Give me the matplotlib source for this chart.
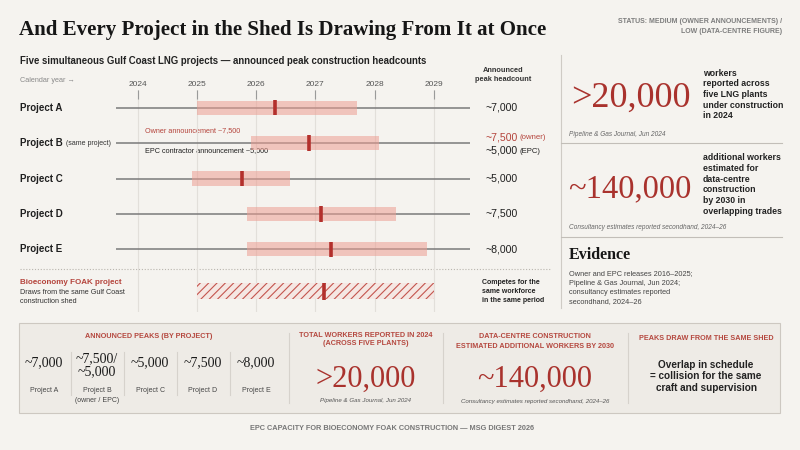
import matplotlib
matplotlib.use("Agg")
import matplotlib.pyplot as plt
from matplotlib.transforms import blended_transform_factory
from matplotlib.patches import Rectangle
from matplotlib.lines import Line2D

# ---------------- data ----------------
projects = ["Project A", "Project B", "Project C", "Project D", "Project E"]
bar_start = [2025.00, 2025.91, 2024.92, 2025.85, 2025.85]
bar_end = [2027.70, 2028.08, 2026.57, 2028.36, 2028.89]
peak_year = [2026.32, 2026.90, 2025.76, 2027.10, 2027.27]
headcount_labels = ["~7,000", "~7,500", "~5,000", "~7,500", "~8,000"]
b_owner_label = "~7,500"
b_epc_label = "~5,000"
foak_start, foak_end, foak_peak = 2025.01, 2029.00, 2027.15
years = [2024, 2025, 2026, 2027, 2028, 2029]
timeline_span = (2023.63, 2029.61)

peak_values = ["~7,000", "~7,500/\n~5,000", "~5,000", "~7,500", "~8,000"]
peak_names = ["Project A", "Project B\n(owner / EPC)", "Project C", "Project D", "Project E"]
lng_workers_2024 = ">20,000"
datacentre_workers_2030 = "~140,000"

# ---------------- style ----------------
BG = "#f5f3ef"
RED = "#a9322d"
RED_L = "#b5483f"
DARK = "#1f1f1f"
SANS = ["Liberation Sans", "DejaVu Sans"]
SERIF = ["Liberation Serif", "DejaVu Serif"]

fig = plt.figure(figsize=(8, 4.5), dpi=100, facecolor=BG)
ov = fig.add_axes([0, 0, 1, 1])
ov.set_xlim(0, 800)
ov.set_ylim(450, 0)
ov.axis("off")
ov.set_zorder(0)


def T(x, y, s, size=6, color=DARK, family=SANS, weight="normal", ha="left",
      va="center", style="normal", **kw):
    return ov.text(x, y, s, fontsize=size, color=color, family=family,
                   weight=weight, ha=ha, va=va, style=style, **kw)


# ---------------- timeline axes ----------------
X0, PPY = 137.7, 59.2      # pixel of 2024, pixels per year
R0, PPR = 107.7, 35.4      # pixel of first row, pixels per row
L, R, TOP, BOT = 110, 475, 90, 312
ax = fig.add_axes([L / 800, (450 - BOT) / 450, (R - L) / 800, (BOT - TOP) / 450])
ax.set_zorder(1)
ax.patch.set_alpha(0)
ax.set_xlim(2024 + (L - X0) / PPY, 2024 + (R - X0) / PPY)
ax.set_ylim((BOT - R0) / PPR, (TOP - R0) / PPR)
for s in ax.spines.values():
    s.set_visible(False)
ax.set_yticks([])
ax.xaxis.tick_top()
ax.set_xticks(years)
ax.set_xticklabels([str(y) for y in years])
ax.tick_params(axis="x", direction="in", length=6.5, width=0.8, color="#9a9a9a",
               pad=1.6, labelsize=6, labelcolor="#555555")
for lab in ax.get_xticklabels():
    lab.set_family(SANS)
ax.grid(axis="x", color="#e2dfda", lw=0.8, zorder=0)
ax.set_axisbelow(True)

rows = list(range(len(projects)))
foak_row = 5.19
bar_h = 0.40

ax.hlines(rows, timeline_span[0], timeline_span[1], color="#7a7a7a", lw=1.1, zorder=2)
ax.barh(rows, [e - s for s, e in zip(bar_start, bar_end)], left=bar_start,
        height=bar_h, color="#ec9e92", alpha=0.55, lw=0, zorder=3)
ax.vlines(peak_year, [r - 0.22 for r in rows], [r + 0.22 for r in rows],
          color="#b3302c", lw=2.6, zorder=4)

plt.rcParams["hatch.linewidth"] = 0.8
ax.barh([foak_row], [foak_end - foak_start], left=[foak_start], height=0.45,
        facecolor="#f5e7e3", edgecolor="#c4554e", hatch="////", lw=0, zorder=3)
ax.vlines([foak_peak], [foak_row - 0.25], [foak_row + 0.25], color="#b3302c",
          lw=2.6, zorder=4)

# labels attached to rows
tr = blended_transform_factory(ov.transData, ax.transData)
for r, name in zip(rows, projects):
    t = ax.text(20, r, name, transform=tr, fontsize=7, weight="bold",
                family=SANS, color=DARK, va="center")
    if r == 1:
        ax.annotate("(same project)", xy=(1, 0.5), xycoords=t, xytext=(2.5, 0),
                    textcoords="offset points", va="center", fontsize=5,
                    family=SANS, color="#333333")
for r, lab in zip(rows, headcount_labels):
    if r == 1:
        t1 = ax.text(485, r - 0.17, b_owner_label, transform=tr, fontsize=7.6,
                     family=SANS, color="#b5443c", va="center")
        ax.annotate("(owner)", xy=(1, 0.45), xycoords=t1, xytext=(1.5, 0),
                    textcoords="offset points", va="center", fontsize=5.6,
                    family=SANS, color="#b5443c")
        t2 = ax.text(485, r + 0.21, b_epc_label, transform=tr, fontsize=7.6,
                     family=SANS, color=DARK, va="center")
        ax.annotate("(EPC)", xy=(1, 0.45), xycoords=t2, xytext=(1.5, 0),
                    textcoords="offset points", va="center", fontsize=5.6,
                    family=SANS, color=DARK)
    else:
        ax.text(485, r, lab, transform=tr, fontsize=7.6, family=SANS,
                color=DARK, va="center")

# ---------------- header ----------------
T(19, 35, "And Every Project in the Shed Is Drawing From It at Once", size=15.1,
  family=SERIF, weight="bold", va="baseline", color="#161616")
T(20, 61.5, "Five simultaneous Gulf Coast LNG projects \u2014 announced peak construction headcounts",
  size=6.9, weight="bold", color="#222222")
T(20, 81, "Calendar year \u2192", size=5.2, color="#8a8a8a")
T(503, 75, "Announced\npeak headcount", size=5.3, weight="bold", ha="center",
  color="#333333", linespacing=1.3)
T(782, 26.5, "STATUS: MEDIUM (OWNER ANNOUNCEMENTS) /\nLOW (DATA-CENTRE FIGURE)",
  size=5.0, weight="bold", ha="right", color="#7d7d7d", linespacing=1.45)

# B annotations
T(145, 131, "Owner announcement ~7,500", size=5.2, color="#b5443c")
T(145, 151, "EPC contractor announcement ~5,000", size=5.2, color=DARK)

# divider
ov.add_line(Line2D([20, 550], [269.3, 269.3], color="#b9b5ae", lw=0.8,
                   linestyle=(0, (1, 1.6))))
T(20, 282, "Bioeconomy FOAK project", size=5.8, color="#b5443c", weight="bold")
T(20, 297.3, "Draws from the same Gulf Coast\nconstruction shed", size=5.2,
  color="#333333", linespacing=1.4)
T(481.7, 291.7, "Competes for the\nsame workforce\nin the same period", size=5.0,
  color="#222222", linespacing=1.35, weight="bold")

# ---------------- right panel ----------------
ov.add_line(Line2D([560.7, 560.7], [55, 308], color="#cfcbc5", lw=0.8))
ov.add_line(Line2D([560.7, 782], [143.3, 143.3], color="#c2beb8", lw=0.8))
ov.add_line(Line2D([560.7, 782], [237.3, 237.3], color="#c2beb8", lw=0.8))

T(571, 107, lng_workers_2024, size=26, family=SERIF, color=RED, va="baseline")
T(703, 94.5, "workers\nreported across\nfive LNG plants\nunder construction\nin 2024",
  size=6.3, weight="bold", color="#222222", linespacing=1.24)
T(569, 135, "Pipeline & Gas Journal, Jun 2024", size=4.7, style="italic", color="#666666")

T(568, 197, datacentre_workers_2030, size=23.5, family=SERIF, color=RED, va="baseline")
T(703, 184.5, "additional workers\nestimated for\ndata-centre\nconstruction\nby 2030 in\noverlapping trades",
  size=6.3, weight="bold", color="#222222", linespacing=1.24)
T(569, 227.7, "Consultancy estimates reported secondhand, 2024\u201326", size=4.7,
  style="italic", color="#666666")

T(569, 255, "Evidence", size=11.5, family=SERIF, weight="bold", color="#161616")
T(569, 287.9, "Owner and EPC releases 2016\u20132025;\nPipeline & Gas Journal, Jun 2024;\nconsultancy estimates reported\nsecondhand, 2024\u201326",
  size=5.3, color="#444444", linespacing=1.45)

# ---------------- bottom panel ----------------
ov.add_patch(Rectangle((19.3, 323.3), 760.7, 90, facecolor="#eeebe6",
                       edgecolor="#cdc8c1", lw=0.8))
T(149, 336.7, "ANNOUNCED PEAKS (BY PROJECT)", size=5.2, weight="bold", ha="center", color=RED_L)
col_x = [44 + i * 53 for i in range(len(peak_values))]
for i, (v, n) in enumerate(zip(peak_values, peak_names)):
    if "\n" in v:
        T(col_x[i], 365.3, v, size=10, family=SERIF, ha="center", color="#1a1a1a",
          linespacing=1.0)
    else:
        T(col_x[i], 362.7, v, size=10, family=SERIF, ha="center", color="#1a1a1a")
    T(col_x[i], 387, n, size=5.0, ha="center", va="top", color="#444444",
      linespacing=1.6)
for i in range(len(peak_values) - 1):
    xs = (col_x[i] + col_x[i + 1]) / 2
    ov.add_line(Line2D([xs, xs], [351.7, 395], color="#d6d2cc", lw=0.8))

for xs in [288.7, 443.3, 627.7]:
    ov.add_line(Line2D([xs, xs], [333, 403], color="#d6d2cc", lw=0.8))

T(366, 335.7, "TOTAL WORKERS REPORTED IN 2024", size=5.2, weight="bold", ha="center", color=RED_L)
T(366, 343.6, "(ACROSS FIVE PLANTS)", size=5.2, weight="bold", ha="center", color=RED_L)
T(366, 386.7, lng_workers_2024, size=22, family=SERIF, ha="center", va="baseline", color=RED)
T(366, 400.3, "Pipeline & Gas Journal, Jun 2024", size=4.4, style="italic", ha="center", color="#555555")

T(535, 336.7, "DATA-CENTRE CONSTRUCTION", size=5.2, weight="bold", ha="center", color=RED_L)
T(535, 346.4, "ESTIMATED ADDITIONAL WORKERS BY 2030", size=5.2, weight="bold", ha="center", color=RED_L)
T(535, 386.7, datacentre_workers_2030, size=22, family=SERIF, ha="center", va="baseline", color=RED)
T(535, 401.7, "Consultancy estimates reported secondhand, 2024\u201326", size=4.4,
  style="italic", ha="center", color="#555555")

T(706, 338.3, "PEAKS DRAW FROM THE SAME SHED", size=5.2, weight="bold", ha="center", color=RED_L)
T(706, 376.3, "Overlap in schedule\n= collision for the same\ncraft and supervision", size=7.2,
  weight="bold", ha="center", color="#222222", linespacing=1.22)

# footer
T(391.7, 429, "EPC CAPACITY FOR BIOECONOMY FOAK CONSTRUCTION \u2014 MSG DIGEST 2026",
  size=5.3, weight="bold", ha="center", color="#777777")

fig.savefig("out.png", dpi=100, facecolor=BG)
